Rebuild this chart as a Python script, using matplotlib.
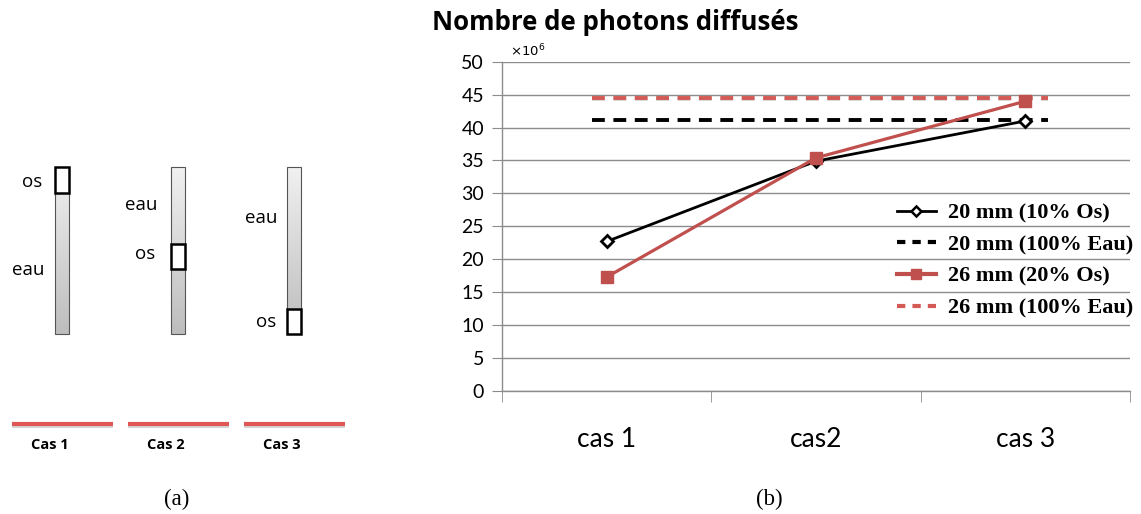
import matplotlib
matplotlib.use("Agg")
import matplotlib.pyplot as plt
import matplotlib.transforms as mtrans
import numpy as np
from matplotlib.lines import Line2D

# scattered photon counts (x10^6) for each configuration
cases = ["cas 1", "cas2", "cas 3"]
os_10 = [22.7, 34.9, 41.0]      # 20 mm, 10% bone
eau_20 = 41.2                   # 20 mm, water only
os_20 = [17.3, 35.4, 44.0]      # 26 mm, 20% bone
eau_26 = 44.5                   # 26 mm, water only

# sketch of the three phantoms: (column x, bone box top, bone box bottom)
phantom_cols = [55, 171, 287]
bone_boxes = [(167, 193), (244, 269), (309, 334)]
case_names = ["Cas 1", "Cas 2", "Cas 3"]

W, H = 1141, 514
fig = plt.figure(figsize=(W / 100, H / 100), dpi=100)

# ---- (a) schematic, drawn in pixel space
sk = fig.add_axes([0, 0, 1, 1])
sk.set_xlim(0, W)
sk.set_ylim(H, 0)
sk.axis("off")

grad = np.linspace(0.94, 0.74, 200).reshape(-1, 1)
col_w, col_top, col_bot = 14, 167, 334
for x0, (b0, b1) in zip(phantom_cols, bone_boxes):
    sk.imshow(grad, cmap="gray", vmin=0, vmax=1, aspect="auto",
              extent=(x0, x0 + col_w, col_bot, col_top), zorder=1)
    sk.add_patch(plt.Rectangle((x0, col_top), col_w, col_bot - col_top,
                               fill=False, ec="#555555", lw=0.8, zorder=2))
    sk.add_patch(plt.Rectangle((x0, b0), col_w, b1 - b0,
                               fc="white", ec="black", lw=1.8, zorder=3))

lab_kw = dict(fontsize=13.5, family="Open Sans", va="center", ha="right")
sk.text(42, 182, "os", **lab_kw)
sk.text(44, 270, "eau", **lab_kw)
sk.text(157, 205, "eau", **lab_kw)
sk.text(155, 254, "os", **lab_kw)
sk.text(277, 218, "eau", **lab_kw)
sk.text(276, 322, "os", **lab_kw)

for i, name in enumerate(case_names):
    xa = 12 + i * 116
    sk.plot([xa, xa + 101], [425.5, 425.5], color="#bbbbbb", lw=3, alpha=0.6,
            solid_capstyle="butt", zorder=1)
    sk.plot([xa, xa + 101], [423.5, 423.5], color="#e05555", lw=3,
            solid_capstyle="butt", zorder=2)
    sk.text(xa + 19, 445, name, fontsize=10.5, fontweight="bold",
            family="Open Sans", va="center", ha="left")

sk.text(177, 499, "(a)", fontsize=16.5, family="Liberation Serif",
        ha="center", va="center")
sk.text(769, 499, "(b)", fontsize=16.5, family="Liberation Serif",
        ha="center", va="center")

# ---- (b) line chart
ax = fig.add_axes([502 / W, 1 - 391 / H, (1130 - 502) / W, (391 - 61.7) / H])
x = np.arange(len(cases))
ax.set_xlim(-0.5, len(cases) - 0.5)
ax.set_ylim(0, 50)
ax.set_yticks(np.arange(0, 51, 5))
ax.set_xticks(x)
ax.set_xticklabels(cases)
ax.set_xticks(np.arange(-0.5, len(cases), 1), minor=True)

ax.grid(axis="y", color="#8c8c8c", lw=1)
ax.set_axisbelow(True)
for s in ("top", "right"):
    ax.spines[s].set_visible(False)
for s in ("left", "bottom"):
    ax.spines[s].set_color("#8c8c8c")
    ax.spines[s].set_linewidth(1)

ax.tick_params(axis="y", length=7, color="#8c8c8c", labelsize=14, pad=6)
ax.tick_params(axis="x", which="major", length=0, labelsize=19, pad=26)
ax.tick_params(axis="x", which="minor", length=8, color="#8c8c8c")
for lbl in ax.get_yticklabels() + ax.get_xticklabels():
    lbl.set_family("Lato")

dash = (0, (3.3, 2.2))
span = (x[0] - 0.07, x[-1] + 0.11)
shadow = ax.transData + mtrans.ScaledTranslation(0, -1.5 / 100, fig.dpi_scale_trans)
ax.hlines(eau_26, *span, colors="#d6d6d6", lw=2.8, linestyles=dash, transform=shadow)
ax.hlines(eau_26, *span, colors="#d45a56", lw=2.8, linestyles=dash)
ax.hlines(eau_20, *span, colors="black", lw=2.8, linestyles=dash)

ax.plot(x, os_10, color="black", lw=2, marker="D", ms=6, mfc="white",
        mec="black", mew=2, zorder=4)
ax.plot(x, os_20, color="#c0504d", lw=2.3, marker="s", ms=8,
        mfc="#c0504d", mec="#c0504d", zorder=5)

ax.text(-0.46, 50.4, "×10$^6$", fontsize=9.5, family="DejaVu Sans",
        ha="left", va="bottom")
fig.text(432 / W, 1 - 22 / H, "Nombre de photons diffusés", fontsize=18.6,
         fontweight="bold", family="Open Sans", ha="left", va="center")

handles = [
    Line2D([], [], color="black", lw=2, marker="D", ms=5, mfc="white", mew=1.8),
    Line2D([], [], color="black", lw=3, ls=(0, (2.0, 1.7))),
    Line2D([], [], color="#c0504d", lw=3, marker="s", ms=7),
    Line2D([], [], color="#d45a56", lw=3, ls=(0, (2.0, 1.7))),
]
labels = ["20 mm (10% Os)", "20 mm (100% Eau)", "26 mm (20% Os)", "26 mm (100% Eau)"]
leg = fig.legend(handles, labels, loc="upper right",
                 bbox_to_anchor=(1153 / W, 1 - 183 / H), frameon=False,
                 prop=dict(family="Liberation Serif", weight="bold", size=16),
                 handlelength=1.75, labelspacing=0.5, handletextpad=0.55,
                 alignment="right", markerfirst=True)

fig.savefig("out.png", dpi=100)
